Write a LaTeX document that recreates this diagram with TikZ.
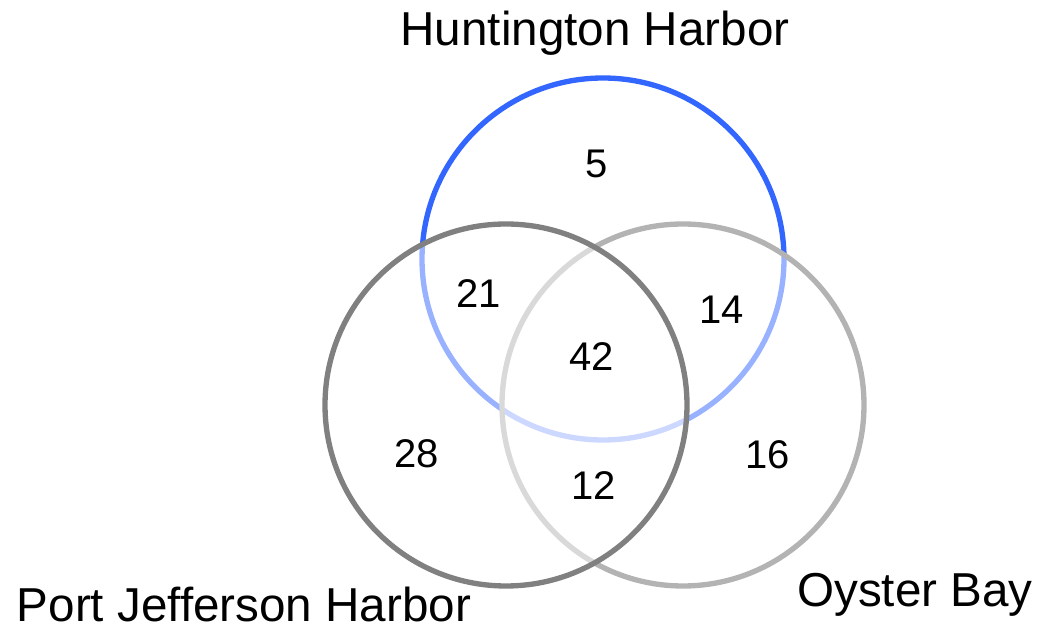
\documentclass[tikz,border=0pt]{standalone}
\usepackage{fontspec}
\setmainfont{Liberation Sans}
\definecolor{hhblue}{HTML}{3366FF}
\definecolor{pjgray}{HTML}{808080}
\definecolor{obgray}{HTML}{B3B3B3}
\tikzset{
  ring/.style={line width=4pt},
  veil/.style={fill=white, fill opacity=0.5},
  setname/.style={anchor=base, inner sep=0pt, font=\fontsize{35.7}{40}\selectfont},
  count/.style={anchor=base, inner sep=0pt, font=\fontsize{30}{34}\selectfont},
}
\begin{document}
\begin{tikzpicture}[x=0.75pt, y=-0.75pt]
  \useasboundingbox (0,0) rectangle (1040,630);
  % three sets
  \coordinate (hh) at (603,259);
  \coordinate (pj) at (506,405);
  \coordinate (ob) at (683,405);
  \draw[ring, draw=hhblue] (hh) circle[radius=135.75pt];
  \draw[ring, draw=obgray, veil] (ob) circle[radius=135.75pt];
  \draw[ring, draw=pjgray, veil] (pj) circle[radius=135.75pt];
  % set names
  \node[setname] (hhlabel) at (595,46) {Huntington Harbor};
  \node[setname] (pjlabel) at (244,622) {Port Jefferson Harbor};
  \node[setname] (oblabel) at (915,607) {Oyster Bay};
  % region counts
  \node[count] (nhh) at (597,178) {5};
  \node[count] (nhhpj) at (479,308) {21};
  \node[count] (nhhob) at (722,324) {14};
  \node[count] (nall) at (592,371) {42};
  \node[count] (npj) at (417,468) {28};
  \node[count] (nob) at (768,469) {16};
  \node[count] (npjob) at (594,500) {12};
\end{tikzpicture}
\end{document}
